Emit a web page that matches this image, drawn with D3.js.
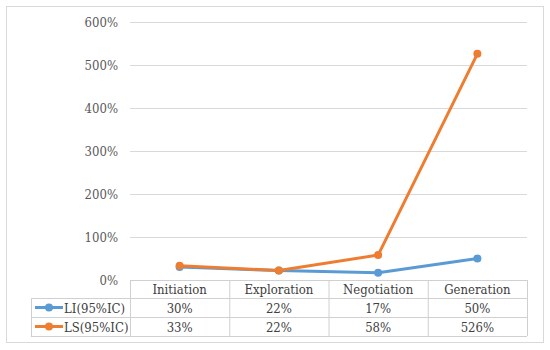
<!DOCTYPE html>
<html>
<head>
<meta charset="utf-8">
<script src="https://cdn.jsdelivr.net/npm/d3@7"></script>
<style>
  body { margin: 0; background: #fff; }
</style>
</head>
<body>
<svg id="chart" width="550" height="350"></svg>
<script>
const categories = ['Initiation', 'Exploration', 'Negotiation', 'Generation'];
const liValues = [30, 22, 17, 50];
const lsValues = [33, 22, 58, 526];
const yTicks = [0, 100, 200, 300, 400, 500, 600];

const series = [
    { name: 'LI(95%IC)', values: liValues, color: '#5b9bd5' },
    { name: 'LS(95%IC)', values: lsValues, color: '#ed7d31' }
];

const FONT = "'DejaVu Serif Condensed', 'DejaVu Serif', serif";

const svg = d3.select('#chart').attr('font-family', FONT);

// outer frame
svg.append('rect')
    .attr('x', 6.5).attr('y', 6.5)
    .attr('width', 537).attr('height', 336)
    .attr('fill', '#fff')
    .attr('stroke', '#d9d9d9');

const plotLeft = 130, plotRight = 527, plotTop = 22, plotBottom = 280;
const tableLeft = 31;
const rowH = [18, 19, 19];

const x = d3.scaleBand().domain(categories).range([plotLeft, plotRight]);
const y = d3.scaleLinear().domain([0, 600]).range([plotBottom, plotTop]);

// gridlines + tick labels
const yAxis = d3.axisLeft(y)
    .tickValues(yTicks)
    .tickSize(-(plotRight - plotLeft))
    .tickPadding(12)
    .tickFormat(d => d + '%');

const ga = svg.append('g')
    .attr('transform', `translate(${plotLeft},0)`)
    .call(yAxis)
    .attr('font-family', FONT);
ga.select('.domain').remove();
ga.selectAll('.tick line').attr('stroke', '#d9d9d9').attr('stroke-width', 1);
ga.selectAll('.tick text')
    .attr('fill', '#595959')
    .attr('font-size', 13);

// data table
const tbl = svg.append('g').attr('font-family', FONT).attr('font-size', 13);
const lineColor = '#d0d0d0';
const rowTops = [plotBottom, plotBottom + rowH[0], plotBottom + rowH[0] + rowH[1]];
const tableBottom = rowTops[2] + rowH[2];

// horizontal lines
tbl.selectAll('.hline')
    .data([plotBottom, rowTops[1], rowTops[2], tableBottom])
    .join('line')
    .attr('x1', (d, i) => i === 0 ? plotLeft : tableLeft)
    .attr('x2', plotRight)
    .attr('y1', d => d + 0.5).attr('y2', d => d + 0.5)
    .attr('stroke', lineColor);

// vertical lines
const vx = categories.map(c => x(c)).concat([plotRight]);
tbl.selectAll('.vline')
    .data(vx)
    .join('line')
    .attr('x1', d => d + 0.5).attr('x2', d => d + 0.5)
    .attr('y1', plotBottom).attr('y2', tableBottom)
    .attr('stroke', lineColor);
tbl.append('line')
    .attr('x1', tableLeft + 0.5).attr('x2', tableLeft + 0.5)
    .attr('y1', rowTops[1]).attr('y2', tableBottom)
    .attr('stroke', lineColor);

// header
tbl.selectAll('.hdr')
    .data(categories)
    .join('text')
    .attr('x', d => x(d) + x.bandwidth() / 2)
    .attr('y', plotBottom + rowH[0] / 2 + 5)
    .attr('text-anchor', 'middle')
    .attr('fill', '#404040')
    .text(d => d);

// value rows + legend keys
series.forEach((s, si) => {
    const rt = rowTops[si + 1];
    const cy = rt + rowH[si + 1] / 2;
    tbl.append('line')
        .attr('x1', 35).attr('x2', 63)
        .attr('y1', cy).attr('y2', cy)
        .attr('stroke', s.color).attr('stroke-width', 3);
    tbl.append('circle')
        .attr('cx', 49).attr('cy', cy).attr('r', 4)
        .attr('fill', s.color);
    tbl.append('text')
        .attr('x', 64).attr('y', cy + 5)
        .attr('fill', '#404040')
        .text(s.name);
    tbl.selectAll('.v' + si)
        .data(s.values)
        .join('text')
        .attr('x', (d, i) => x(categories[i]) + x.bandwidth() / 2)
        .attr('y', cy + 5)
        .attr('text-anchor', 'middle')
        .attr('fill', '#404040')
        .text(d => d + '%');
});

// lines
const line = d3.line()
    .x((d, i) => x(categories[i]) + x.bandwidth() / 2)
    .y(d => y(d));

series.forEach(s => {
    const g = svg.append('g');
    g.append('path')
        .datum(s.values)
        .attr('d', line)
        .attr('fill', 'none')
        .attr('stroke', s.color)
        .attr('stroke-width', 3)
        .attr('stroke-linejoin', 'round');
    g.selectAll('circle')
        .data(s.values)
        .join('circle')
        .attr('cx', (d, i) => x(categories[i]) + x.bandwidth() / 2)
        .attr('cy', d => y(d))
        .attr('r', 4)
        .attr('fill', s.color);
});
</script>
</body>
</html>
